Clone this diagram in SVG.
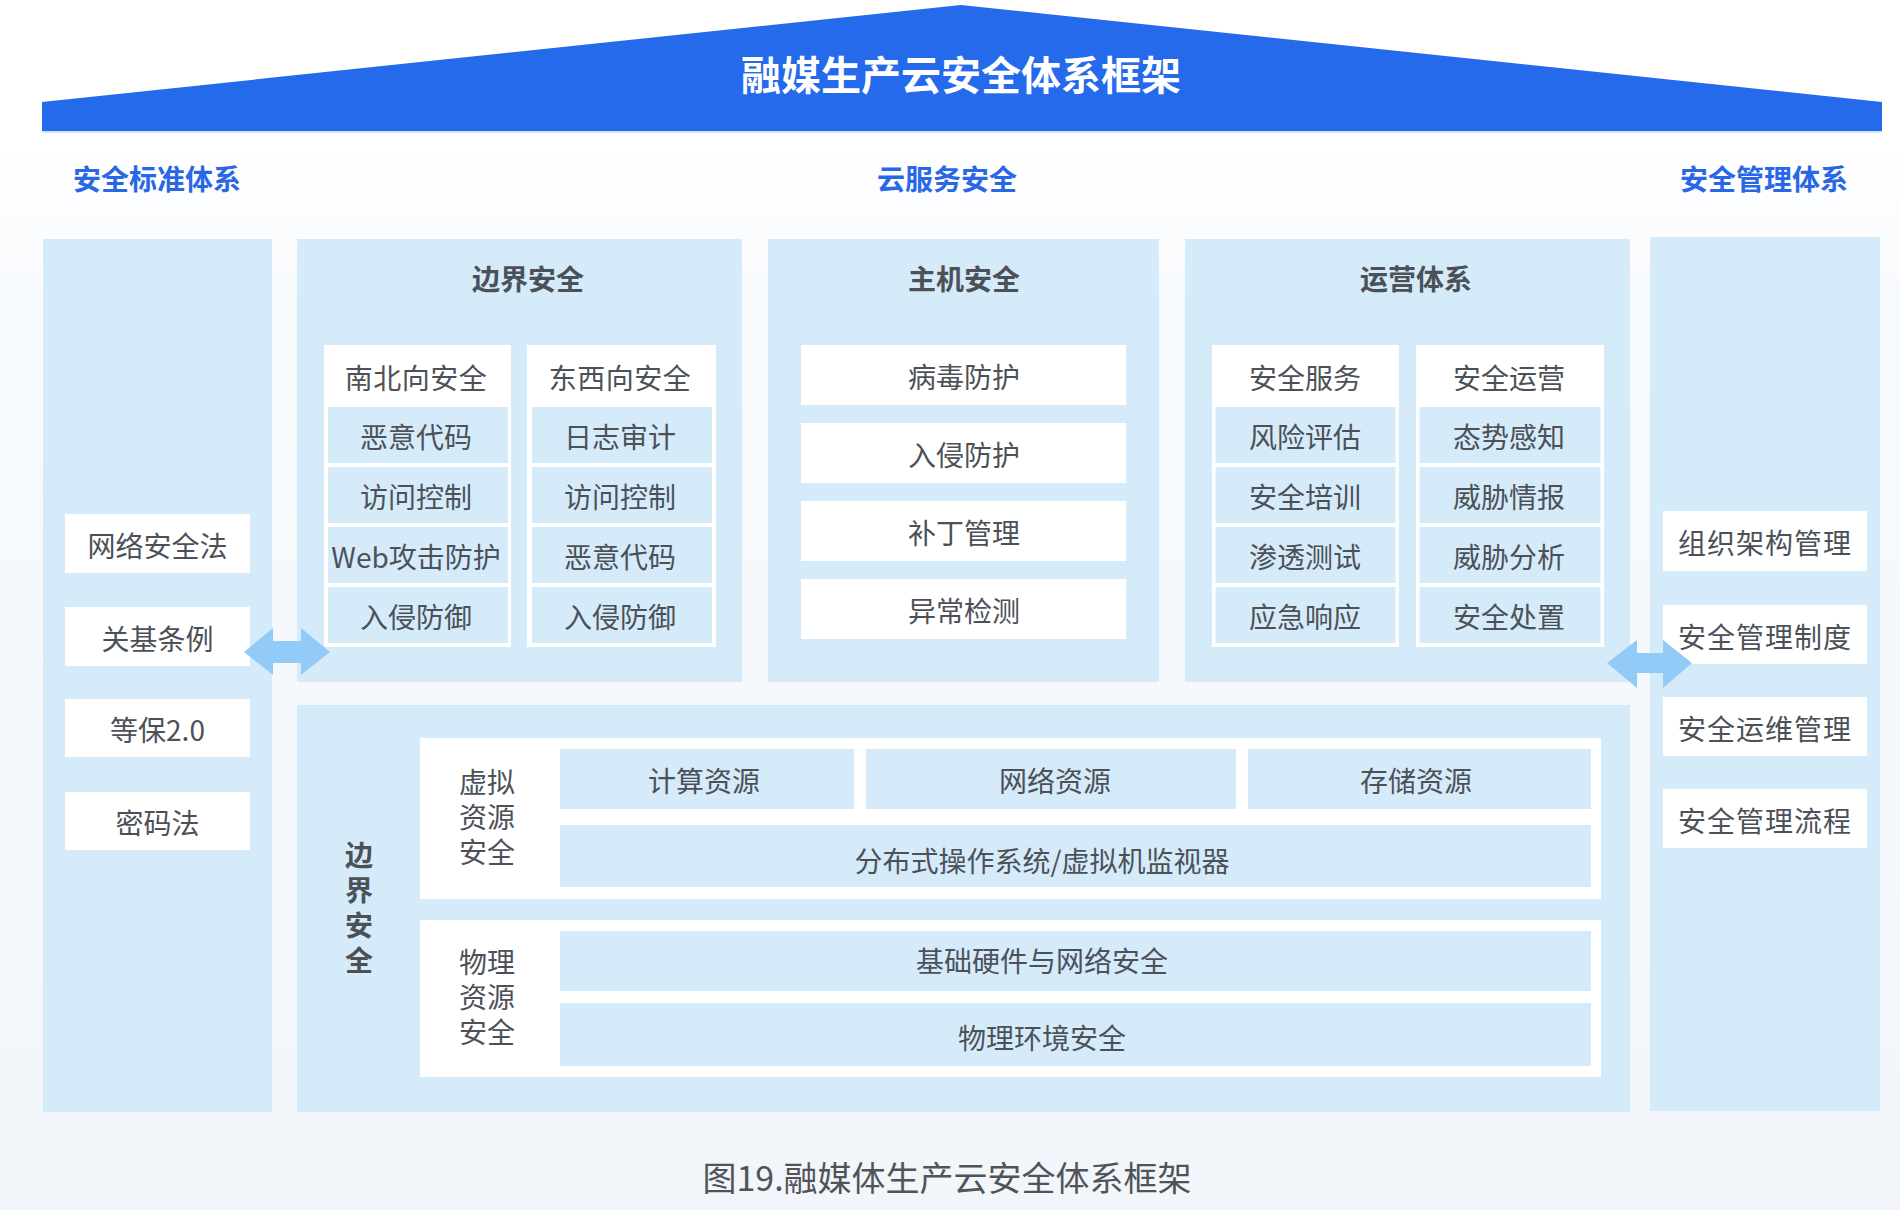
<svg xmlns="http://www.w3.org/2000/svg" width="1900" height="1210" viewBox="0 0 1900 1210">
<defs>
<linearGradient id="bg" x1="0" y1="0" x2="0" y2="1">
<stop offset="0" stop-color="#ffffff"/>
<stop offset="0.12" stop-color="#ffffff"/>
<stop offset="0.25" stop-color="#f7fafd"/>
<stop offset="1" stop-color="#f2f6fa"/>
</linearGradient>
<style>
text{font-family:"Noto Sans CJK SC","Noto Sans",sans-serif;}
.panel{fill:#d5ebfa;}
.white{fill:#ffffff;}
.cell{fill:#d5ebfa;}
.t{font-size:28px;fill:#4c5158;text-anchor:middle;}
.h{font-size:28px;fill:#4c5158;text-anchor:middle;font-weight:bold;}
.cap{font-size:28px;fill:#2a67e6;text-anchor:middle;font-weight:bold;}
.arrow{fill:#93cbf8;}
</style>
</defs>
<rect width="1900" height="1210" fill="url(#bg)"/>

<g id="roof">
<polygon points="42,102 961,5 1882,102 1882,131 42,131" fill="#246aeb"/>
<rect x="42" y="131" width="1840" height="2" fill="#cfe3fb"/>
<text x="961" y="90" font-size="40" font-weight="bold" fill="#ffffff" text-anchor="middle">融媒生产云安全体系框架</text>
</g>

<g id="captions">
<text class="cap" x="157" y="190">安全标准体系</text>
<text class="cap" x="947" y="190">云服务安全</text>
<text class="cap" x="1764" y="190">安全管理体系</text>
</g>

<g id="standards">
<rect class="panel" x="43" y="239" width="229" height="873"/>
<rect class="white" x="65" y="514" width="185" height="59"/>
<text class="t" x="157.5" y="557">网络安全法</text>
<rect class="white" x="65" y="607" width="185" height="59"/>
<text class="t" x="157.5" y="650">关基条例</text>
<rect class="white" x="65" y="699" width="185" height="58"/>
<text class="t" x="157.5" y="741">等保2.0</text>
<rect class="white" x="65" y="792" width="185" height="58"/>
<text class="t" x="157.5" y="834">密码法</text>
</g>

<g id="management">
<rect class="panel" x="1650" y="237" width="230" height="874"/>
<rect class="white" x="1663" y="511" width="204" height="60"/>
<text class="t" x="1765" y="554" letter-spacing="1">组织架构管理</text>
<rect class="white" x="1663" y="605" width="204" height="59"/>
<text class="t" x="1765" y="648" letter-spacing="1">安全管理制度</text>
<rect class="white" x="1663" y="697" width="204" height="59"/>
<text class="t" x="1765" y="740" letter-spacing="1">安全运维管理</text>
<rect class="white" x="1663" y="789" width="204" height="59"/>
<text class="t" x="1765" y="832" letter-spacing="1">安全管理流程</text>
</g>

<g id="border-security">
<rect class="panel" x="297" y="239" width="445" height="443"/>
<text class="h" x="528" y="290">边界安全</text>
<rect class="white" x="324" y="345" width="187" height="302"/>
<text class="t" x="416" y="389" letter-spacing="0.5">南北向安全</text>
<rect class="cell" x="328" y="407" width="180" height="56"/>
<text class="t" x="416" y="448">恶意代码</text>
<rect class="cell" x="328" y="467" width="180" height="56"/>
<text class="t" x="416" y="508">访问控制</text>
<rect class="cell" x="328" y="527" width="180" height="56"/>
<text class="t" x="416" y="568">Web攻击防护</text>
<rect class="cell" x="328" y="587" width="180" height="56"/>
<text class="t" x="416" y="628">入侵防御</text>
<rect class="white" x="527" y="345" width="189" height="302"/>
<text class="t" x="620" y="389" letter-spacing="0.5">东西向安全</text>
<rect class="cell" x="532" y="407" width="180" height="56"/>
<text class="t" x="620" y="448">日志审计</text>
<rect class="cell" x="532" y="467" width="180" height="56"/>
<text class="t" x="620" y="508">访问控制</text>
<rect class="cell" x="532" y="527" width="180" height="56"/>
<text class="t" x="620" y="568">恶意代码</text>
<rect class="cell" x="532" y="587" width="180" height="56"/>
<text class="t" x="620" y="628">入侵防御</text>
</g>

<g id="host-security">
<rect class="panel" x="768" y="239" width="391" height="443"/>
<text class="h" x="964" y="290">主机安全</text>
<rect class="white" x="801" y="345" width="325" height="60"/>
<text class="t" x="964" y="388">病毒防护</text>
<rect class="white" x="801" y="423" width="325" height="60"/>
<text class="t" x="964" y="466">入侵防护</text>
<rect class="white" x="801" y="501" width="325" height="60"/>
<text class="t" x="964" y="544">补丁管理</text>
<rect class="white" x="801" y="579" width="325" height="60"/>
<text class="t" x="964" y="622">异常检测</text>
</g>

<g id="operations">
<rect class="panel" x="1185" y="239" width="445" height="443"/>
<text class="h" x="1416" y="290">运营体系</text>
<rect class="white" x="1212" y="345" width="187" height="302"/>
<text class="t" x="1305" y="389">安全服务</text>
<rect class="cell" x="1215.5" y="407" width="180" height="56"/>
<text class="t" x="1305" y="448">风险评估</text>
<rect class="cell" x="1215.5" y="467" width="180" height="56"/>
<text class="t" x="1305" y="508">安全培训</text>
<rect class="cell" x="1215.5" y="527" width="180" height="56"/>
<text class="t" x="1305" y="568">渗透测试</text>
<rect class="cell" x="1215.5" y="587" width="180" height="56"/>
<text class="t" x="1305" y="628">应急响应</text>
<rect class="white" x="1416" y="345" width="188" height="302"/>
<text class="t" x="1509" y="389">安全运营</text>
<rect class="cell" x="1419.5" y="407" width="181" height="56"/>
<text class="t" x="1509" y="448">态势感知</text>
<rect class="cell" x="1419.5" y="467" width="181" height="56"/>
<text class="t" x="1509" y="508">威胁情报</text>
<rect class="cell" x="1419.5" y="527" width="181" height="56"/>
<text class="t" x="1509" y="568">威胁分析</text>
<rect class="cell" x="1419.5" y="587" width="181" height="56"/>
<text class="t" x="1509" y="628">安全处置</text>
</g>

<g id="infrastructure">
<rect class="panel" x="297" y="705" width="1333" height="407"/>
<text class="h" x="359" y="841" writing-mode="tb" letter-spacing="7" style="text-anchor:start">边界安全</text>
<rect class="white" x="420" y="738" width="1181" height="161"/>
<text class="t"><tspan x="487" y="793">虚拟</tspan><tspan x="487" y="828">资源</tspan><tspan x="487" y="863">安全</tspan></text>
<rect class="cell" x="560" y="749" width="294" height="60"/>
<text class="t" x="704" y="792">计算资源</text>
<rect class="cell" x="866" y="749" width="370" height="60"/>
<text class="t" x="1055" y="792">网络资源</text>
<rect class="cell" x="1248" y="749" width="343" height="60"/>
<text class="t" x="1416" y="792">存储资源</text>
<rect class="cell" x="560" y="825" width="1031" height="62"/>
<text class="t" x="1042" y="872">分布式操作系统/虚拟机监视器</text>
<rect class="white" x="420" y="920" width="1181" height="157"/>
<text class="t"><tspan x="487" y="973">物理</tspan><tspan x="487" y="1008">资源</tspan><tspan x="487" y="1043">安全</tspan></text>
<rect class="cell" x="560" y="931" width="1031" height="60"/>
<text class="t" x="1042" y="972">基础硬件与网络安全</text>
<rect class="cell" x="560" y="1003" width="1031" height="63"/>
<text class="t" x="1042" y="1049">物理环境安全</text>
</g>

<g id="connectors">
<polygon class="arrow" points="244,652 273,628 273,641 301,641 301,628 330,652 301,675 301,663 273,663 273,675"/>
<polygon class="arrow" points="1607,663 1637,640 1637,653 1663,653 1663,640 1692,663 1663,688 1663,673 1637,673 1637,688"/>
</g>

<text x="947" y="1191" font-size="34" fill="#505459" text-anchor="middle">图19.融媒体生产云安全体系框架</text>
</svg>
